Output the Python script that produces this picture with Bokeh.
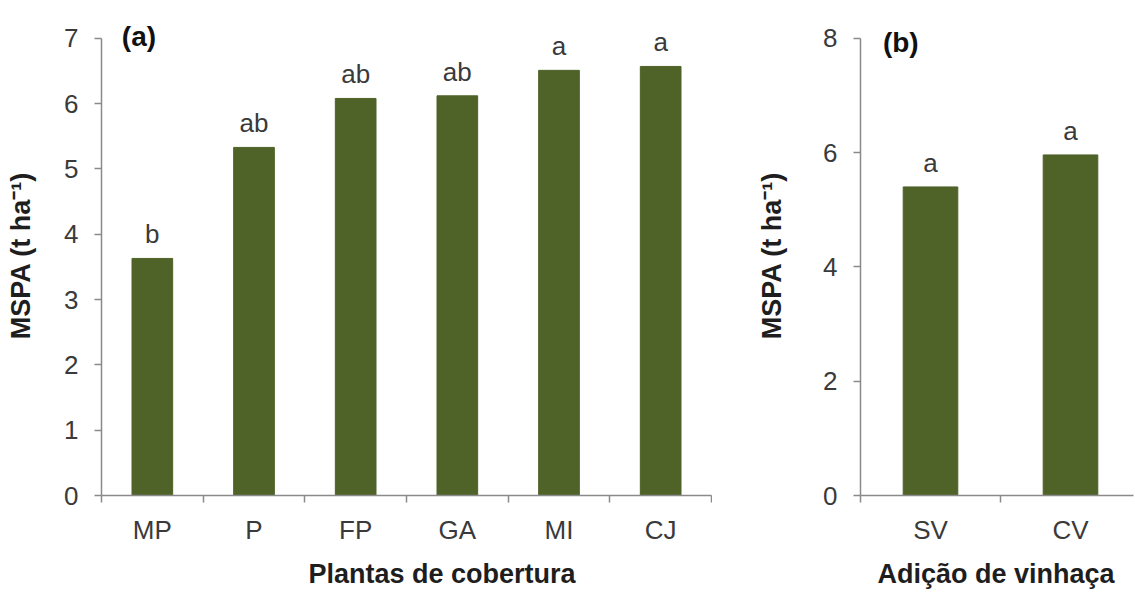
from bokeh.plotting import figure
from bokeh.models import Range1d, FixedTicker, ColumnDataSource, LabelSet, Label, Title
from bokeh.core.properties import value
from bokeh.layouts import row
from bokeh.embed import file_html
from bokeh.resources import INLINE

# ---- data ----
plantas = ["MP", "P", "FP", "GA", "MI", "CJ"]
mspa_plantas = [3.63, 5.33, 6.08, 6.12, 6.51, 6.57]
letras_plantas = ["b", "ab", "ab", "ab", "a", "a"]

vinhaca = ["SV", "CV"]
mspa_vinhaca = [5.40, 5.96]
letras_vinhaca = ["a", "a"]

yticks_a = [0, 1, 2, 3, 4, 5, 6, 7]
yticks_b = [0, 2, 4, 6, 8]

BAR = "#4F6228"
AXIS = "#8a8a8a"
TXT = "#3a3a3a"
TITLE = "#1e1e1e"
FONT = "Liberation Sans"


def panel(cats, vals, letters, yticks, ymax, ytop, xend, width, min_left, min_bottom,
          tag, tag_xy, xtitle, title_offset, bar_width, ttl_standoff):
    n = len(cats)
    pos = [i + 0.5 for i in range(n)]
    src = ColumnDataSource(dict(x=pos, top=vals, lab=letters))
    p = figure(width=width, height=601, output_backend="svg", toolbar_location=None,
               x_range=Range1d(0, xend), y_range=Range1d(0, ytop),
               min_border_left=min_left, min_border_right=1,
               min_border_top=15, min_border_bottom=min_bottom)
    p.outline_line_color = None
    p.grid.grid_line_color = None
    p.background_fill_color = "white"
    p.border_fill_color = "white"
    p.vbar(x="x", top="top", width=bar_width, source=src, fill_color=BAR, line_color=BAR)
    p.add_layout(LabelSet(x="x", y="top", text="lab", source=src, y_offset=15,
                          text_align="center", text_baseline="alphabetic",
                          text_font=value(FONT), text_font_size=value("26px"),
                          text_color=TXT))

    xa = p.xaxis[0]
    xa.ticker = FixedTicker(ticks=pos, minor_ticks=list(range(n + 1)))
    xa.major_label_overrides = {v: c for v, c in zip(pos, cats)}
    xa.major_tick_out = 0
    xa.major_tick_in = 0
    xa.minor_tick_out = 7
    xa.minor_tick_in = 0
    xa.minor_tick_line_color = AXIS
    xa.minor_tick_line_width = 1.5
    xa.axis_line_color = AXIS
    xa.axis_line_width = 1.5
    xa.major_label_standoff = 12
    xa.major_label_text_font = FONT
    xa.major_label_text_font_size = "26px"
    xa.major_label_text_color = TXT

    ya = p.yaxis[0]
    ya.ticker = FixedTicker(ticks=yticks, minor_ticks=[])
    ya.bounds = (0, ymax)
    ya.major_tick_out = 7
    ya.major_tick_in = 0
    ya.major_tick_line_color = AXIS
    ya.major_tick_line_width = 1.5
    ya.minor_tick_line_color = None
    ya.axis_line_color = AXIS
    ya.axis_line_width = 1.5
    ya.major_label_standoff = 16
    ya.major_label_text_font = FONT
    ya.major_label_text_font_size = "26px"
    ya.major_label_text_color = TXT
    ya.axis_label = "MSPA (t ha\u207b\u00b9)"
    ya.axis_label_standoff = ttl_standoff
    ya.axis_label_text_font = FONT
    ya.axis_label_text_font_size = "27px"
    ya.axis_label_text_font_style = "bold"
    ya.axis_label_text_color = TITLE

    p.add_layout(Title(text=xtitle, align="left", offset=title_offset, standoff=19,
                       text_font=FONT, text_font_size="27px", text_font_style="bold",
                       text_color=TITLE), "below")

    p.add_layout(Label(x=tag_xy[0], y=tag_xy[1], text=tag, text_font=FONT,
                       text_font_size="28px", text_font_style="bold",
                       text_color="#111111", text_baseline="middle", text_align="left"))
    return p


pa = panel(plantas, mspa_plantas, letras_plantas, yticks_a, 7, 7.35, 6, 712, 101, 106,
           "(a)", (0.2, 7.03), "Plantas de cobertura", 207, 0.4, 25)
pb = panel(vinhaca, mspa_vinhaca, letras_vinhaca, yticks_b, 8, 8.4, 1.95, 422, 148, 104,
           "(b)", (0.16, 7.93), "Adi\u00e7\u00e3o de vinha\u00e7a", 17, 0.39, 33)

layout = row(pa, pb)
open("out.html", "w").write(file_html(layout, INLINE))
